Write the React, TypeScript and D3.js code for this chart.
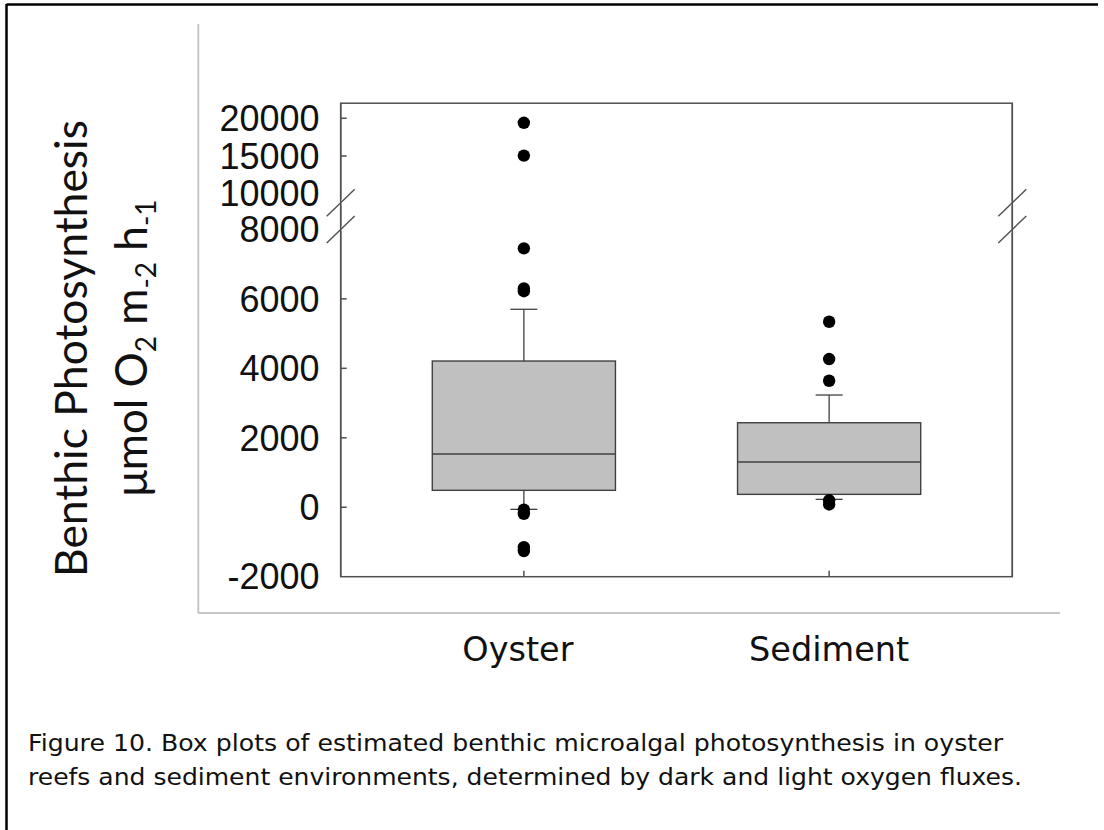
import React from 'react';
import * as d3 from 'd3';

// ---- data ----
const categories = ['Oyster', 'Sediment'];
const q1Values = [487, 371];
const medianValues = [1535, 1301];
const q3Values = [4210, 2433];
const whiskerLowValues = [-60, 227];
const whiskerHighValues = [5700, 3231];
const oysterOutliers = [19400, 15050, 7455, 6300, 6220, -70, -190, -1150, -1260];
const sedimentOutliers = [5341, 4267, 3642, 200, 80];
const outlierValues = [oysterOutliers, sedimentOutliers];

const lowerTickValues = [-2000, 0, 2000, 4000, 6000, 8000];
const upperTickValues = [10000, 15000, 20000];
const lowerDomain = [-2000, 8000];
const upperDomain = [10000, 22000];
const breakLower = 8000;
const breakUpper = 8800;

const yTitleLine1 = 'Benthic Photosynthesis';
const captionLine1 = 'Figure 10. Box plots of estimated benthic microalgal photosynthesis in oyster';
const captionLine2 = 'reefs and sediment environments, determined by dark and light oxygen fluxes.';

export default function App() {
  const W = 1104;
  const H = 830;
  const left = 340.7;
  const right = 1012.3;

  const x = d3.scalePoint<string>().domain(categories).range([left, right]).padding(0.6);
  const yLow = d3.scaleLinear().domain(lowerDomain).range([576.7, 229.4]);
  const yHigh = d3.scaleLinear().domain(upperDomain).range([193.7, 103.2]);
  const y = (v: number) => (v >= 9000 ? yHigh(v) : yLow(v));

  const step = x.step();
  const boxW = step * 0.6;
  const capW = 27;
  const top = yHigh(upperDomain[1]);
  const bottom = yLow(lowerDomain[0]);

  const frameColor = '#505050';
  const boxStroke = '#404040';
  const tickFont = "'Liberation Sans', Arial, sans-serif";

  const tickLabels = [
    ...lowerTickValues.map((v) => ({ v, y: yLow(v), mark: v > lowerDomain[0] && v < lowerDomain[1] })),
    ...upperTickValues.map((v) => ({ v, y: yHigh(v), mark: v > upperDomain[0] })),
  ];

  const breakYs = [yHigh(breakUpper), yLow(breakLower)];
  const labelShift = [-6, 0];

  return (
    <svg
      width={W}
      height={H}
      viewBox={`0 0 ${W} ${H}`}
      style={{ position: 'absolute', left: 0, top: 0, background: '#fff' }}
    >
      <rect x={0} y={0} width={W} height={H} fill="#fff" />
      {/* outer page border */}
      <line x1={6.5} y1={4.5} x2={1098} y2={4.5} stroke="#000" strokeWidth={2.5} />
      <line x1={6.5} y1={4} x2={6.5} y2={H} stroke="#000" strokeWidth={2.5} />

      {/* light gray L of picture frame */}
      <line x1={198.3} y1={24} x2={198.3} y2={613} stroke="#c6c6c6" strokeWidth={2} />
      <line x1={198.3} y1={613} x2={1060} y2={613} stroke="#c6c6c6" strokeWidth={2} />

      {/* plot frame */}
      <rect x={left} y={top} width={right - left} height={bottom - top} fill="none" stroke={frameColor} strokeWidth={1.5} />

      {/* y ticks + labels */}
      {tickLabels.map((t) => (
        <g key={t.v}>
          {t.mark && <line x1={left} x2={left + 6} y1={t.y} y2={t.y} stroke={frameColor} strokeWidth={1.5} />}
          <text
            x={319.5}
            y={t.y}
            dy="0.355em"
            textAnchor="end"
            fontFamily={tickFont}
            fontSize={36}
            fill="#111"
          >
            {t.v}
          </text>
        </g>
      ))}

      {/* axis break marks */}
      {[left, right].map((ax) =>
        breakYs.map((by, i) => (
          <g key={`${ax}-${i}`}>
            <line x1={ax - 14} y1={by + 13.5} x2={ax + 14} y2={by - 13.5} stroke="#fff" strokeWidth={4} />
            <line x1={ax - 14} y1={by + 13.5} x2={ax + 14} y2={by - 13.5} stroke={frameColor} strokeWidth={1.4} />
          </g>
        ))
      )}
      <line x1={left} x2={left} y1={top} y2={bottom} stroke={frameColor} strokeWidth={1.5} />
      <line x1={right} x2={right} y1={top} y2={bottom} stroke={frameColor} strokeWidth={1.5} />

      {/* x ticks */}
      {categories.map((c) => (
        <line key={c} x1={x(c)} x2={x(c)} y1={bottom} y2={bottom - 6} stroke={frameColor} strokeWidth={1.5} />
      ))}

      {/* boxes */}
      {categories.map((c, i) => {
        const cx = x(c) as number;
        return (
          <g key={c}>
            <line x1={cx} x2={cx} y1={y(whiskerHighValues[i])} y2={y(q3Values[i])} stroke={boxStroke} strokeWidth={1.3} />
            <line x1={cx} x2={cx} y1={y(q1Values[i])} y2={y(whiskerLowValues[i])} stroke={boxStroke} strokeWidth={1.3} />
            <line x1={cx - capW / 2} x2={cx + capW / 2} y1={y(whiskerHighValues[i])} y2={y(whiskerHighValues[i])} stroke={boxStroke} strokeWidth={1.3} />
            <line x1={cx - capW / 2} x2={cx + capW / 2} y1={y(whiskerLowValues[i])} y2={y(whiskerLowValues[i])} stroke={boxStroke} strokeWidth={1.3} />
            <rect
              x={cx - boxW / 2}
              y={y(q3Values[i])}
              width={boxW}
              height={y(q1Values[i]) - y(q3Values[i])}
              fill="#c0c0c0"
              stroke={boxStroke}
              strokeWidth={1.4}
            />
            <line x1={cx - boxW / 2} x2={cx + boxW / 2} y1={y(medianValues[i])} y2={y(medianValues[i])} stroke={boxStroke} strokeWidth={1.4} />
            {outlierValues[i].map((v, j) => (
              <circle key={j} cx={cx} cy={y(v)} r={6.2} fill="#000" />
            ))}
          </g>
        );
      })}

      {/* category labels */}
      {categories.map((c, i) => (
        <text
          key={c}
          x={(x(c) as number) + labelShift[i]}
          y={661}
          textAnchor="middle"
          fontFamily="'DejaVu Sans', sans-serif"
          fontSize={33.5}
          fill="#111"
        >
          {c}
        </text>
      ))}

      {/* y axis title */}
      <text
        transform="translate(87,348.5) rotate(-90)"
        textAnchor="middle"
        fontFamily="Lato, 'Open Sans', sans-serif"
        fontSize={44}
        textLength={457}
        lengthAdjust="spacingAndGlyphs"
        fill="#111"
      >
        {yTitleLine1}
      </text>
      <text
        transform="translate(147,348) rotate(-90)"
        textAnchor="middle"
        fontFamily="Lato, 'Open Sans', sans-serif"
        fontSize={44}
        fill="#111"
      >
        <tspan>μmol O</tspan>
        <tspan fontSize={28} dy={9}>2</tspan>
        <tspan dy={-9}> m</tspan>
        <tspan fontSize={28} dy={9}>-2</tspan>
        <tspan dy={-9}> h</tspan>
        <tspan fontSize={28} dy={9}>-1</tspan>
      </text>

      {/* caption */}
      <text
        x={28}
        y={751}
        fontFamily="'DejaVu Sans', sans-serif"
        fontSize={23.5}
        textLength={975}
        lengthAdjust="spacingAndGlyphs"
        fill="#111"
      >
        {captionLine1}
      </text>
      <text
        x={28}
        y={785}
        fontFamily="'DejaVu Sans', sans-serif"
        fontSize={23.5}
        textLength={994}
        lengthAdjust="spacingAndGlyphs"
        fill="#111"
      >
        {captionLine2}
      </text>
    </svg>
  );
}
